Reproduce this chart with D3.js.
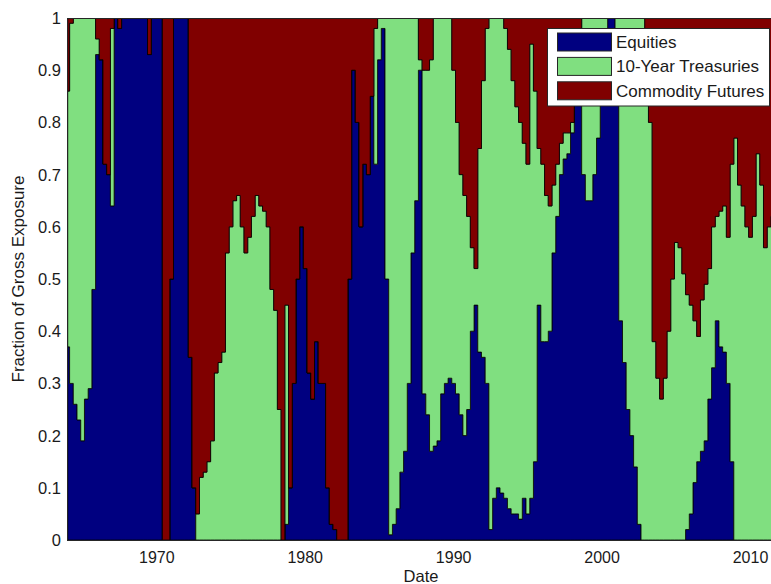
<!DOCTYPE html>
<html>
<head>
<meta charset="utf-8">
<script src="https://cdn.jsdelivr.net/npm/d3@7"></script>
<style>
body { margin: 0; background: #fff; }
text { font-family: "Liberation Sans", Arial, sans-serif; fill: #1a1a1a; }
</style>
</head>
<body>
<svg id="chart" width="771" height="584"></svg>
<script>
// quarterly fractions of gross exposure, first value is 1964 Q1
var firstQuarter = 1964.0;
var seriesNames = ["Equities", "10-Year Treasuries", "Commodity Futures"];

var equities = [
    .37,.30,.26,.23, .19,.27,.29,.48, .93,.92,.72,.70, .64,1,.98,1,     // 1964-67
    1,1,1,1, 1,1,.93,1, 1,1,0,0, .5,1,1,1,                               // 1968-71
    1,.35,.10,0, 0,0,0,0, 0,0,0,0, 0,0,0,0,                              // 1972-75
    0,0,0,0, 0,0,0,0, 0,0,0,.03, .10,.30,.50,.60,                        // 1976-79
    .52,.32,.27,.38, .30,.30,.10,.03, .02,0,0,0, .50,.90,.80,.60,        // 1980-83
    .72,.70,.85,.72, .92,.98,.50,.01, .03,.06,.13,.17, .30,.55,.65,.90,  // 1984-87
    .28,.24,.17,.18, .19,.28,.30,.31, .30,.28,.24,.20, .25,.40,.45,.36,  // 1988-91
    .35,.30,.02,.08, .10,.09,.08,.06, .05,.05,.04,.08, .05,.08,.15,.45,  // 1992-95
    .38,.38,.40,.55, .62,.70,.73,.74, .78,.85,.95,.70, .65,.65,.70,.77,  // 1996-99
    .85,.92,1,1, .95,.42,.34,.25, .20,.14,.03,0, 0,0,0,0,                // 2000-03
    0,0,0,0, 0,0,0,.02, .05,.11,.15,.17, .19,.27,.33,.42,                // 2004-07
    .37,.36,.30,.15, 0,0,0,0, 0,0,0,0, 0,0,0                             // 2008-11
];
var treasuries = [
    .49,.69,.74,.77, .81,.73,.71,.52, .03,0,0,0, .34,0,0,0,
    0,0,0,0, 0,0,0,0, 0,0,0,0, 0,0,0,0,
    0,0,0,.05, .12,.13,.15,.19, .32,.34,.36,.55, .60,.65,.66,.60,
    .55,.58,.62,.66, .64,.63,.60,.48, .44,.25,0,.42, 0,0,0,0,
    0,0,0,0, 0,0,0,0, 0,0,0,0, 0,0,0,0,
    0,0,0,.26, .08,.02,.50,.99, .97,.94,.87,.83, .70,.45,.35,.02,
    .62,.66,.75,.82, .81,.72,.70,.69, .60,.52,.46,.46, .37,.16,.07,.39,
    .53,.68,.98,.92, .90,.91,.90,.88, .83,.78,.76,.68, .67,.87,.71,.30,
    .34,.28,.24,.13, .10,.06,.05,.04, .02,.01,.02,.30, .35,.35,.30,.23,
    .15,.08,0,0, .05,.58,.66,.75, .80,.86,.97,1, .92,.80,.38,.31,
    .27,.31,.40,.50, .57,.56,.51,.45, .40,.31,.24,.29, .30,.25,.27,.20,
    .26,.28,.28,.57, .77,.68,.64,.60, .58,.62,.74,.68, .56,.60,.62
];
var commodities = [
    .14,.01,0,0, 0,0,0,0, .04,.08,.28,.30, .02,0,.02,0,
    0,0,0,0, 0,0,.07,0, 0,0,1,1, .5,0,0,0,
    0,.65,.90,.95, .88,.87,.85,.81, .68,.66,.64,.45, .40,.35,.34,.40,
    .45,.42,.38,.34, .36,.37,.40,.52, .56,.75,1,.55, .90,.70,.50,.40,
    .48,.68,.73,.62, .70,.70,.90,.97, .98,1,1,1, .50,.10,.20,.40,
    .28,.30,.15,.02, 0,0,0,0, 0,0,0,0, 0,0,0,.08,
    .10,.10,.08,0, 0,0,0,0, .10,.20,.30,.34, .38,.44,.48,.25,
    .12,.02,0,0, 0,0,.02,.06, .12,.17,.20,.24, .28,.05,.14,.25,
    .28,.34,.36,.32, .28,.24,.22,.22, .20,.14,.03,0, 0,0,0,0,
    0,0,0,0, 0,0,0,0, 0,0,0,0, .08,.20,.62,.69,
    .73,.69,.60,.50, .43,.44,.49,.53, .55,.58,.61,.54, .51,.48,.40,.38,
    .37,.36,.42,.28, .23,.32,.36,.40, .42,.38,.26,.32, .44,.40,.38
];
var xTicks = [1970, 1980, 1990, 2000, 2010];
var yTicks = [0, 0.1, 0.2, 0.3, 0.4, 0.5, 0.6, 0.7, 0.8, 0.9, 1];

var colors = ["#000080", "#80df80", "#800000"];
var keys = ["eq", "tr", "co"];

var svg = d3.select("#chart");
var plotLeft = 67, plotRight = 775, plotTop = 18, plotBottom = 540;

var x = d3.scaleLinear().domain([1963.95, 2011.65]).range([plotLeft, plotRight]);
var y = d3.scaleLinear().domain([0, 1]).range([plotBottom, plotTop]);

var rows = [];
for (var i = 0; i < equities.length; i++) {
    rows.push({date: firstQuarter + i / 4, eq: equities[i], tr: treasuries[i], co: commodities[i]});
}

var stacked = d3.stack().keys(keys)(rows);

svg.append("defs").append("clipPath").attr("id", "plotclip")
    .append("rect").attr("x", plotLeft).attr("y", plotTop)
    .attr("width", plotRight - plotLeft).attr("height", plotBottom - plotTop);

// stepped, so the jumps between quarters come out as the sharp vertical edges of the original
var area = d3.area()
    .curve(d3.curveStep)
    .x(function(d) { return x(d.data.date); })
    .y0(function(d) { return y(d[0]); })
    .y1(function(d) { return y(d[1]); });

svg.append("g").attr("clip-path", "url(#plotclip)")
    .selectAll("path").data(stacked).enter()
    .append("path")
    .attr("d", area)
    .attr("fill", function(d, i) { return colors[i]; })
    .attr("stroke", "#000")
    .attr("stroke-width", 0.8);

// axes box (no right side, it is off the picture)
var box = svg.append("g").attr("stroke", "#262626").attr("stroke-width", 1).attr("fill", "none");
box.append("line").attr("x1", plotLeft + 0.5).attr("x2", plotLeft + 0.5).attr("y1", plotTop).attr("y2", plotBottom + 0.5);
box.append("line").attr("x1", plotLeft).attr("x2", plotRight).attr("y1", plotBottom + 0.5).attr("y2", plotBottom + 0.5);
box.append("line").attr("x1", plotLeft).attr("x2", plotRight).attr("y1", plotTop + 0.5).attr("y2", plotTop + 0.5);

svg.append("g").selectAll("text").data(yTicks).enter()
    .append("text")
    .attr("x", 61)
    .attr("y", function(d) { return y(d) + 6; })
    .attr("text-anchor", "end")
    .style("font-size", "16.5px")
    .text(function(d) { return d3.format("~g")(d); });

svg.append("g").selectAll("text").data(xTicks).enter()
    .append("text")
    .attr("x", function(d) { return x(d); })
    .attr("y", 563)
    .attr("text-anchor", "middle")
    .style("font-size", "16px")
    .text(function(d) { return d; });

svg.append("text")
    .attr("x", (plotLeft + plotRight) / 2).attr("y", 582)
    .attr("text-anchor", "middle")
    .style("font-size", "16.5px")
    .text("Date");

svg.append("text")
    .attr("transform", "translate(23.5," + ((plotTop + plotBottom) / 2) + ") rotate(-90)")
    .attr("text-anchor", "middle")
    .style("font-size", "17px")
    .text("Fraction of Gross Exposure");

// legend
var legend = svg.append("g");
legend.append("rect")
    .attr("x", 547.5).attr("y", 28.5).attr("width", 222).attr("height", 77.5)
    .attr("fill", "#fff").attr("stroke", "#262626");
seriesNames.forEach(function(name, i) {
    var cy = 42 + i * 24.4;
    legend.append("rect")
        .attr("x", 557.5).attr("y", cy - 9).attr("width", 54).attr("height", 18)
        .attr("fill", colors[i]).attr("stroke", "#262626");
    legend.append("text")
        .attr("x", 616).attr("y", cy + 6)
        .style("font-size", "17px")
        .text(name);
});
</script>
</body>
</html>
